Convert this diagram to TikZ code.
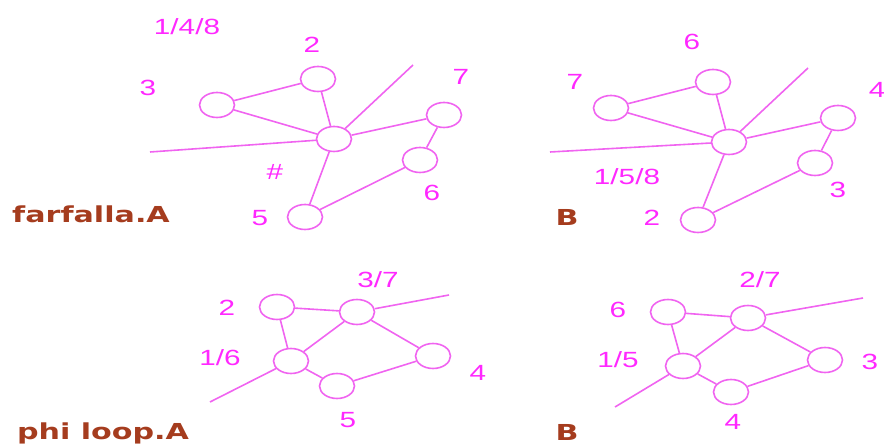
\documentclass[tikz,border=0pt]{standalone}
\usepackage{fontspec}
\usepackage{tikz}
\usetikzlibrary{shapes.geometric}
\newfontfamily\labfont[FakeStretch=1.35]{Liberation Sans}
\newfontfamily\capfont[FakeStretch=1.37]{DejaVu Sans Bold}
\definecolor{lilla}{RGB}{255,40,255}
\definecolor{filo}{RGB}{240,100,240}
\definecolor{bruno}{RGB}{165,60,30}
\tikzset{
  vert/.style={ellipse, draw=filo, line width=1.6pt, minimum width=35pt, minimum height=25pt, inner sep=0pt},
  arco/.style={draw=filo, line width=1.6pt},
  num/.style={text=lilla, font=\labfont\fontsize{22}{24}\selectfont, inner sep=0pt},
  titolo/.style={text=bruno, font=\capfont\fontsize{22}{24}\selectfont, inner sep=0pt}
}

\begin{document}
\begin{tikzpicture}[x=1pt,y=-1pt]
\useasboundingbox (0,0) rectangle (884,446);

\node[vert] (a2) at (318,79) {};
\node[vert] (a3) at (217,105) {};
\node[vert] (ah) at (334,139) {};
\node[vert] (a7) at (444,115) {};
\node[vert] (a6) at (420,160) {};
\node[vert] (a5) at (305,217) {};
\coordinate (aup) at (413,65);
\coordinate (aleft) at (150,152);
\draw[arco] (a3) -- (a2);
\draw[arco] (a3) -- (ah);
\draw[arco] (a2) -- (ah);
\draw[arco] (ah) -- (a7);
\draw[arco] (a7) -- (a6);
\draw[arco] (a6) -- (a5);
\draw[arco] (a5) -- (ah);
\draw[arco] (ah) -- (aup);
\draw[arco] (ah) -- (aleft);
\node[num] (la148) at (187,27) {1/4/8};
\node[num] (la2) at (312,45) {2};
\node[num] (la3) at (148,88) {3};
\node[num] (la7) at (461,77) {7};
\node[num] (la6) at (432,193) {6};
\node[num] (la5) at (260,218) {5};
\node[num] (lahash) at (275,172) {\#};
\node[titolo] (ta) at (91,214) {farfalla.A};

\node[vert] (b6) at (713,82) {};
\node[vert] (b7) at (611,108) {};
\node[vert] (bh) at (729,142) {};
\node[vert] (b4) at (838,118) {};
\node[vert] (b3) at (815,163) {};
\node[vert] (b2) at (698,220) {};
\coordinate (bup) at (808,68);
\coordinate (bleft) at (550,152);
\draw[arco] (b7) -- (b6);
\draw[arco] (b7) -- (bh);
\draw[arco] (b6) -- (bh);
\draw[arco] (bh) -- (b4);
\draw[arco] (b4) -- (b3);
\draw[arco] (b3) -- (b2);
\draw[arco] (b2) -- (bh);
\draw[arco] (bh) -- (bup);
\draw[arco] (bh) -- (bleft);
\node[num] (lb6) at (692,42) {6};
\node[num] (lb7) at (575,82) {7};
\node[num] (lb4) at (877,90) {4};
\node[num] (lb3) at (838,190) {3};
\node[num] (lb2) at (652,218) {2};
\node[num] (lb158) at (627,177) {1/5/8};
\node[titolo] (tb) at (567,217) {B};

\node[vert] (c37) at (357,312) {};
\node[vert] (c2) at (277,307) {};
\node[vert] (c16) at (291,361) {};
\node[vert] (c5) at (337,386) {};
\node[vert] (c4) at (433,356) {};
\coordinate (cright) at (449,295);
\coordinate (cdown) at (210,402);
\draw[arco] (c2) -- (c37);
\draw[arco] (c2) -- (c16);
\draw[arco] (c16) -- (c37);
\draw[arco] (c37) -- (c4);
\draw[arco] (c4) -- (c5);
\draw[arco] (c5) -- (c16);
\draw[arco] (c37) -- (cright);
\draw[arco] (c16) -- (cdown);
\node[num] (lc37) at (378,280) {3/7};
\node[num] (lc2) at (227,308) {2};
\node[num] (lc16) at (220,358) {1/6};
\node[num] (lc5) at (348,420) {5};
\node[num] (lc4) at (478,373) {4};
\node[titolo] (tc) at (103,433) {phi loop.A};

\node[vert] (d27) at (748,318) {};
\node[vert] (d6) at (668,312) {};
\node[vert] (d15) at (683,366) {};
\node[vert] (d4) at (731,392) {};
\node[vert] (d3) at (825,360) {};
\coordinate (dright) at (863,298);
\coordinate (ddown) at (615,407);
\draw[arco] (d6) -- (d27);
\draw[arco] (d6) -- (d15);
\draw[arco] (d15) -- (d27);
\draw[arco] (d27) -- (d3);
\draw[arco] (d3) -- (d4);
\draw[arco] (d4) -- (d15);
\draw[arco] (d27) -- (dright);
\draw[arco] (d15) -- (ddown);
\node[num] (ld27) at (760,280) {2/7};
\node[num] (ld6) at (618,310) {6};
\node[num] (ld15) at (618,360) {1/5};
\node[num] (ld4) at (733,422) {4};
\node[num] (ld3) at (870,362) {3};
\node[titolo] (td) at (567,432) {B};
\end{tikzpicture}
\end{document}
